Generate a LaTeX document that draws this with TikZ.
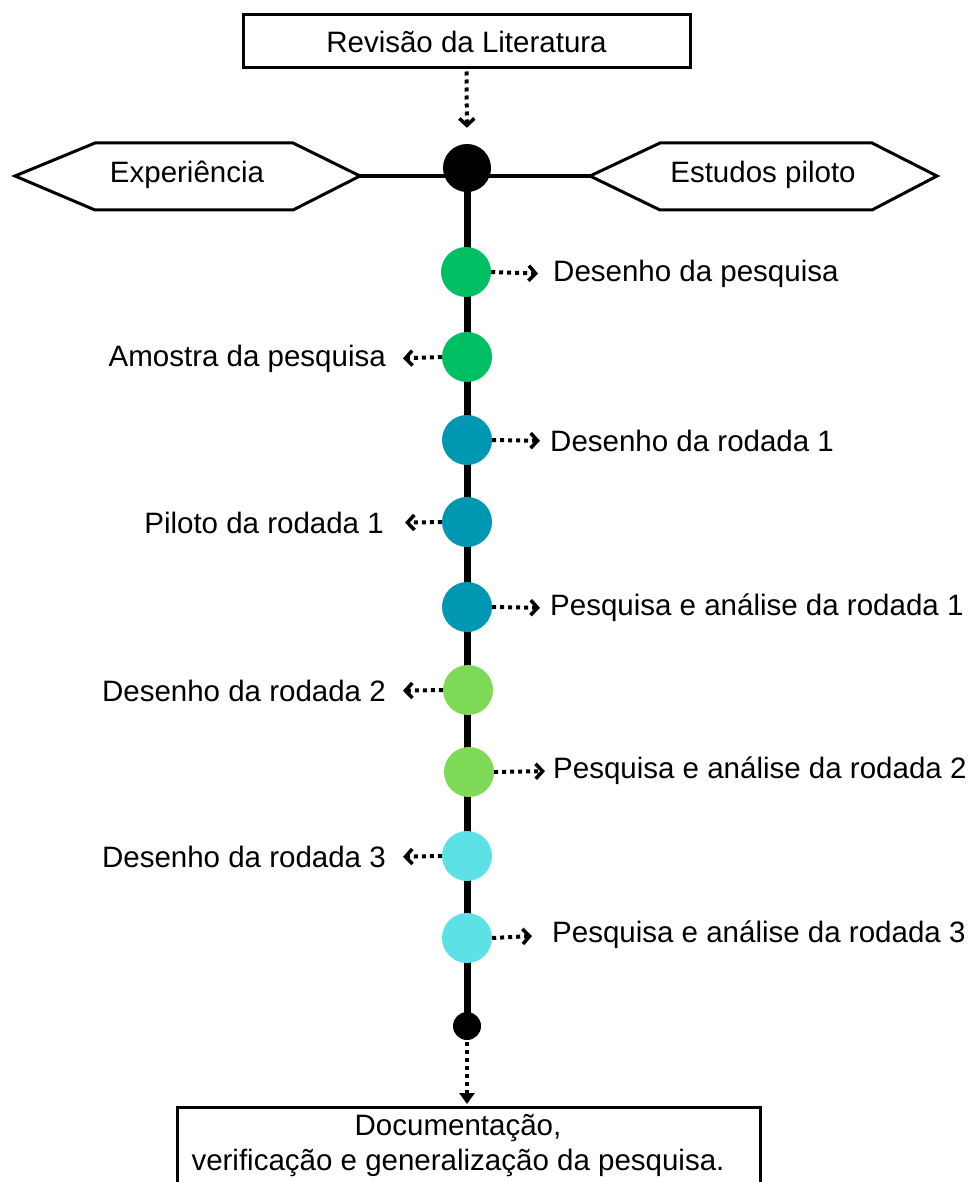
\documentclass[tikz,border=0pt]{standalone}
\usepackage{fontspec}
\setmainfont{Liberation Sans}
\usetikzlibrary{arrows.meta,backgrounds}
\definecolor{cgreen}{HTML}{00BF63}
\definecolor{cteal}{HTML}{0097B2}
\definecolor{clight}{HTML}{7ED957}
\definecolor{ccyan}{HTML}{5CE1E6}
\begin{document}
\begin{tikzpicture}[x=1pt,y=-1pt,
  txt/.style={font=\fontsize{29.5}{35}\selectfont, inner sep=0pt},
  boxnode/.style={draw, line width=3pt, rectangle, txt},
  stepdot/.style={circle, fill=#1, minimum size=50pt, inner sep=0pt},
  dotline/.style={line width=4pt, dash pattern=on 4pt off 4pt},
  dotarrow/.style={dotline, -{Straight Barb[length=7pt,width=15pt,line width=3.5pt]}},
  hexline/.style={line width=3pt, line join=miter},
]
\useasboundingbox (0,0) rectangle (967,1182);

% top box
\node[boxnode, minimum width=447pt, minimum height=53pt] (lit) at (466.5,41.5) {Revisão da Literatura};

% top black circle
\node[circle, fill=black, minimum size=48pt, inner sep=0pt] (top) at (467,168) {};

% hexagons
\coordinate (hl) at (360,176);
\coordinate (hr) at (590,176);
\draw[hexline] (15,176) -- (95,143) -- (293,143) -- (hl) -- (293,210) -- (95,210) -- cycle;
\draw[hexline] (hr) -- (660,143) -- (872,143) -- (937,176) -- (872,210) -- (660,210) -- cycle;
\node[txt] (exp) at (187,175) {Experiência};
\node[txt] (est) at (763,175) {Estudos piloto};

% step circles
\node[stepdot=cgreen] (c1) at (466,272) {};
\node[stepdot=cgreen] (c2) at (467,357) {};
\node[stepdot=cteal]  (c3) at (467,440) {};
\node[stepdot=cteal]  (c4) at (467,522) {};
\node[stepdot=cteal]  (c5) at (467,607) {};
\node[stepdot=clight] (c6) at (468,690) {};
\node[stepdot=clight] (c7) at (469,772) {};
\node[stepdot=ccyan]  (c8) at (467,856) {};
\node[stepdot=ccyan]  (c9) at (467,938) {};

% bottom black circle
\node[circle, fill=black, minimum size=28pt, inner sep=0pt] (bot) at (467,1026) {};

% labels
\node[txt, anchor=west] (t1) at (553,274) {Desenho da pesquisa};
\node[txt, anchor=east] (t2) at (386,359) {Amostra da pesquisa};
\node[txt, anchor=west] (t3) at (550,441) {Desenho da rodada 1};
\node[txt, anchor=east] (t4) at (384,523) {Piloto da rodada 1};
\node[txt, anchor=west] (t5) at (550,608) {Pesquisa e análise da rodada 1};
\node[txt, anchor=east] (t6) at (386,691) {Desenho da rodada 2};
\node[txt, anchor=west] (t7) at (553,771) {Pesquisa e análise da rodada 2};
\node[txt, anchor=east] (t8) at (386,857) {Desenho da rodada 3};
\node[txt, anchor=west] (t9) at (552,935) {Pesquisa e análise da rodada 3};

% arrows
\draw[dotarrow, shorten >=15pt] (c1.east) -- (t1.west);
\draw[dotarrow, shorten >=17pt] (c2.west) -- (t2.east);
\draw[dotarrow, shorten >=10pt] (c3.east) -- (t3.west);
\draw[dotarrow, shorten >=21pt] (c4.west) -- (t4.east);
\draw[dotarrow, shorten >=10pt] (c5.east) -- (t5.west);
\draw[dotarrow, shorten >=17pt] (c6.west) -- (t6.east);
\draw[dotarrow, shorten >=8pt]  (c7.east) -- (t7.west);
\draw[dotarrow, shorten >=17pt] (c8.west) -- (t8.east);
\draw[dotarrow, shorten >=20pt] (c9.east) -- (t9.west);

\draw[dotarrow, shorten <=2pt, shorten >=16pt] (lit.south) -- (top.north);

% bottom box
\node[draw, line width=3pt, anchor=north, minimum width=583pt, minimum height=80pt] (doc) at (468.5,1106) {};
\node[txt, align=center] (doctext) at (458,1146) {Documentação,\\verificação e generalização da pesquisa.};
\draw[dotline, -{Triangle[length=11pt,width=15pt]}, shorten <=2pt, shorten >=2pt] (bot.south) -- (doc.north -| bot.south);

% background lines
\begin{pgfonlayer}{background}
\draw[line width=4pt] (hl) -- (hr);
\draw[line width=7pt] (top.center) -- (bot.center);
\end{pgfonlayer}
\end{tikzpicture}
\end{document}
